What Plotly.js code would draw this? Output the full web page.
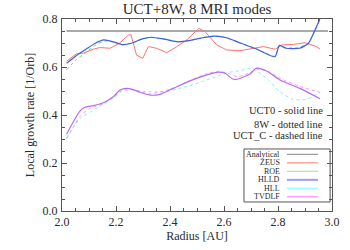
<!DOCTYPE html>
<html>
<head>
<meta charset="utf-8">
<script src="https://cdn.plot.ly/plotly-3.0.1.min.js"></script>
<style>html,body{margin:0;padding:0;background:#fff}#chart{width:350px;height:250px}</style>
</head>
<body>
<div id="chart"></div>
<script>
// ---- data ----
const analyticalR = [2.017, 2.985];
const analyticalV = [0.75, 0.75];

const hlldR = [2.017, 2.05, 2.09, 2.125, 2.155, 2.19, 2.225, 2.26, 2.295, 2.33, 2.38, 2.43, 2.48, 2.52, 2.565, 2.61, 2.66, 2.72, 2.789, 2.805, 2.83, 2.88, 2.913, 2.937, 2.955];
const hlldV = [0.615, 0.645, 0.675, 0.700, 0.713, 0.705, 0.693, 0.700, 0.716, 0.724, 0.716, 0.705, 0.712, 0.722, 0.729, 0.722, 0.700, 0.675, 0.643, 0.690, 0.678, 0.678, 0.699, 0.754, 0.800];

const roeR = [2.017, 2.05, 2.09, 2.125, 2.155, 2.19, 2.225, 2.26, 2.295, 2.33, 2.38, 2.43, 2.48, 2.52, 2.565, 2.61, 2.66, 2.72, 2.789, 2.805, 2.83, 2.88, 2.913, 2.937, 2.955];
const roeV = [0.588, 0.628, 0.662, 0.692, 0.708, 0.704, 0.693, 0.700, 0.715, 0.723, 0.716, 0.705, 0.712, 0.722, 0.729, 0.722, 0.700, 0.676, 0.645, 0.688, 0.680, 0.682, 0.702, 0.750, 0.795];

const zeusR = [2.017, 2.052, 2.08, 2.116, 2.14, 2.178, 2.215, 2.246, 2.255, 2.276, 2.299, 2.32, 2.35, 2.388, 2.425, 2.461, 2.507, 2.53, 2.573, 2.61, 2.659, 2.709, 2.746, 2.789, 2.814, 2.857, 2.90, 2.943, 2.956];
const zeusV = [0.624, 0.654, 0.658, 0.674, 0.681, 0.678, 0.701, 0.733, 0.736, 0.650, 0.636, 0.685, 0.678, 0.660, 0.685, 0.712, 0.761, 0.747, 0.692, 0.671, 0.668, 0.678, 0.685, 0.674, 0.692, 0.694, 0.701, 0.685, 0.674];

const tvdlfR = [2.017, 2.042, 2.067, 2.085, 2.116, 2.153, 2.19, 2.215, 2.24, 2.258, 2.289, 2.326, 2.363, 2.412, 2.474, 2.536, 2.573, 2.604, 2.632, 2.653, 2.696, 2.721, 2.758, 2.807, 2.881, 2.956];
const tvdlfV = [0.32, 0.372, 0.417, 0.432, 0.439, 0.451, 0.476, 0.504, 0.511, 0.508, 0.495, 0.483, 0.486, 0.511, 0.542, 0.567, 0.578, 0.574, 0.55, 0.55, 0.571, 0.595, 0.583, 0.546, 0.511, 0.468];

const tvdlf8wR = [2.017, 2.042, 2.067, 2.1, 2.153, 2.19, 2.22, 2.26, 2.326, 2.412, 2.474, 2.536, 2.58, 2.62, 2.65, 2.70, 2.721, 2.758, 2.807, 2.881, 2.956];
const tvdlf8wV = [0.305, 0.35, 0.395, 0.425, 0.448, 0.476, 0.502, 0.505, 0.488, 0.512, 0.543, 0.572, 0.582, 0.572, 0.56, 0.578, 0.59, 0.585, 0.553, 0.519, 0.494];

const hllR = [2.017, 2.04, 2.067, 2.116, 2.153, 2.19, 2.215, 2.24, 2.289, 2.326, 2.38, 2.45, 2.511, 2.57, 2.619, 2.66, 2.696, 2.709, 2.758, 2.807, 2.857, 2.906, 2.937, 2.956];
const hllV = [0.30, 0.345, 0.386, 0.42, 0.445, 0.47, 0.494, 0.507, 0.50, 0.497, 0.497, 0.515, 0.536, 0.56, 0.578, 0.585, 0.595, 0.592, 0.553, 0.497, 0.465, 0.465, 0.483, 0.494];

const legendNames = ['Analytical', 'ZEUS', 'ROE', 'HLLD', 'HLL', 'TVDLF'];
const legendColors = ['#9a9a9a', '#ff8a8a', '#9cf09c', '#9a9aff', '#8affff', '#ff8aff'];
const noteLines = ['UCT0 - solid line', '8W - dotted line', 'UCT_C - dashed line'];
const xTicks = [2.0, 2.2, 2.4, 2.6, 2.8, 3.0];
const yTicks = [0.0, 0.2, 0.4, 0.6, 0.8];

const serif = 'Liberation Serif, Times New Roman, serif';
const txt = '#2a2a2a';

function tr(x, y, color, dash, shape, width) {
  return {x: x, y: y, type: 'scatter', mode: 'lines', showlegend: false, hoverinfo: 'skip',
    line: {color: color, dash: dash, shape: shape, smoothing: 0.6, width: width}};
}

const traces = [
  tr(analyticalR, analyticalV, '#555555', 'solid', 'linear', 1),
  tr(zeusR, zeusV, '#ff7272', 'solid', 'linear', 1),
  tr(roeR, roeV, '#66dd66', 'dot', 'spline', 1),
  tr(hlldR, hlldV, '#3d5ee0', 'solid', 'spline', 1.2),
  tr(hllR, hllV, '#7fefff', 'dot', 'spline', 1),
  tr(tvdlf8wR, tvdlf8wV, '#ff90ff', 'dot', 'spline', 1),
  tr(tvdlfR, tvdlfV, '#b36ef2', 'solid', 'spline', 1.2)
];

// manual legend (text left of sample line, as in reference)
const shapes = [{type: 'rect', xref: 'paper', yref: 'paper', x0: 0.674, x1: 0.993, y0: 0.047, y1: 0.323,
  line: {color: '#555555', width: 1}, fillcolor: 'rgba(0,0,0,0)'}];
const annotations = [];
const rowY0 = 0.295, rowStep = 0.0442;
legendNames.forEach(function (n, i) {
  const yy = rowY0 - i * rowStep;
  shapes.push({type: 'line', xref: 'paper', yref: 'paper', x0: 0.833, x1: 0.948, y0: yy, y1: yy,
    line: {color: legendColors[i], width: i === 3 ? 2 : 1.2}});
  annotations.push({xref: 'paper', yref: 'paper', x: 0.815, y: yy, xanchor: 'right', yanchor: 'middle',
    text: n, showarrow: false, font: {family: serif, size: 8, color: txt}});
});
const noteY = [0.526, 0.4516, 0.392];
noteLines.forEach(function (t, i) {
  annotations.push({xref: 'paper', yref: 'paper', x: 0.975, y: noteY[i], xanchor: 'right', yanchor: 'middle',
    text: t, showarrow: false, font: {family: serif, size: 10.5, color: txt}});
});

const axisCommon = {
  showgrid: false, zeroline: false, showline: true, linecolor: '#555555', linewidth: 1,
  mirror: 'ticks', ticks: 'inside', ticklen: 5, tickcolor: '#555555', tickwidth: 1,
  tickfont: {family: serif, size: 12, color: txt},
  minor: {ticks: 'inside', ticklen: 3, tickcolor: '#555555', dtick: 0.05, showgrid: false}
};

const layout = {
  width: 350, height: 250,
  margin: {l: 62, r: 18, t: 19, b: 39, pad: 0},
  paper_bgcolor: '#ffffff', plot_bgcolor: '#ffffff',
  title: {text: 'UCT+8W, 8 MRI modes', font: {family: serif, size: 15, color: txt},
    x: 0.563, xanchor: 'center', y: 0.965, yanchor: 'middle'},
  xaxis: Object.assign({}, axisCommon, {range: [2.0, 3.0], tickvals: xTicks,
    ticktext: xTicks.map(v => v.toFixed(1)), ticklabelstandoff: 0,
    title: {text: 'Radius [AU]', font: {family: serif, size: 12, color: txt}, standoff: 2}}),
  yaxis: Object.assign({}, axisCommon, {range: [0.0, 0.8], tickvals: yTicks,
    ticktext: yTicks.map(v => v.toFixed(1)), ticklabelstandoff: 1,
    title: {text: 'Local growth rate [1/Orb]', font: {family: serif, size: 12, color: txt}, standoff: 5}}),
  shapes: shapes,
  annotations: annotations,
  showlegend: false
};

Plotly.newPlot('chart', traces, layout, {displayModeBar: false, staticPlot: true});
</script>
</body>
</html>
